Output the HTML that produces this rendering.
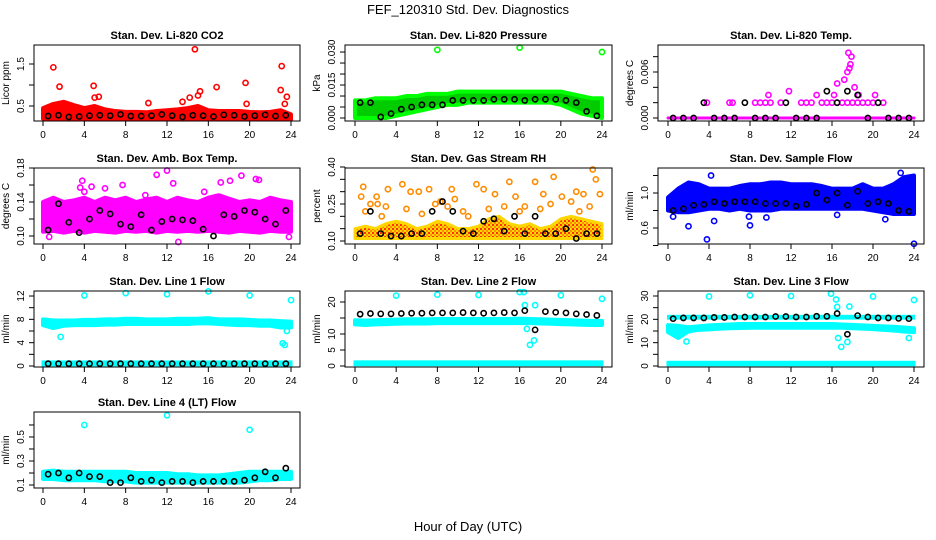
<!DOCTYPE html>
<html><head><meta charset="utf-8">
<style>
html,body{margin:0;padding:0;background:#fff;}
svg{display:block;font-family:"Liberation Sans",sans-serif;}
</style></head>
<body>
<svg id="chart" width="936" height="540" viewBox="0 0 936 540" xmlns="http://www.w3.org/2000/svg">
<defs>
<pattern id="rhpat" width="4" height="4" patternUnits="userSpaceOnUse">
<rect width="4" height="4" fill="#ffd700"/>
<rect width="2" height="2" fill="#ff3300"/>
<rect x="2" y="2" width="2" height="2" fill="#ff8c00"/>
</pattern>
</defs>
<text x="468" y="14" text-anchor="middle" font-size="13">FEF_120310  Std. Dev. Diagnostics</text>
<text x="468" y="531" text-anchor="middle" font-size="13">Hour of Day (UTC)</text>
</svg>
<script>
const hours = [0,1,2,3,4,5,6,7,8,9,10,11,12,13,14,15,16,17,18,19,20,21,22,23,24];
const blackHours = [0.5,1.5,2.5,3.5,4.5,5.5,6.5,7.5,8.5,9.5,10.5,11.5,12.5,13.5,14.5,15.5,16.5,17.5,18.5,19.5,20.5,21.5,22.5,23.5];
const xTicks = [0,4,8,12,16,20,24];

// Panel 1 CO2
const co2Lo = [0.2,0.2,0.2,0.2,0.2,0.2,0.2,0.2,0.2,0.2,0.2,0.2,0.2,0.2,0.2,0.2,0.2,0.2,0.2,0.2,0.2,0.2,0.2,0.2,0.18];
const co2Hi = [0.45,0.55,0.6,0.52,0.45,0.5,0.42,0.38,0.36,0.36,0.35,0.38,0.4,0.42,0.45,0.5,0.4,0.38,0.38,0.38,0.36,0.35,0.36,0.4,0.3];
const co2OutX = [1,1.6,4.9,5,5.4,10.2,13.5,14.2,14.7,15,15.2,16.8,19.6,19.7,23.1,23,23.4,23.6];
const co2OutY = [1.42,0.96,0.98,0.7,0.72,0.57,0.6,0.7,1.85,0.75,0.85,0.95,1.05,0.55,1.45,0.88,0.55,0.72];
const co2Black = [0.26,0.28,0.24,0.25,0.27,0.28,0.27,0.3,0.26,0.26,0.27,0.3,0.27,0.24,0.28,0.27,0.25,0.29,0.28,0.25,0.27,0.29,0.26,0.28];
// Panel 2 pressure
const presLo = [0,0,0,0,0.001,0.002,0.003,0.004,0.005,0.006,0.006,0.007,0.007,0.007,0.007,0.007,0.007,0.007,0.007,0.007,0.006,0.004,0.002,0.001,0];
const presHi = [0.008,0.008,0.009,0.009,0.009,0.01,0.01,0.011,0.011,0.011,0.012,0.012,0.012,0.012,0.012,0.012,0.012,0.012,0.012,0.012,0.012,0.011,0.01,0.009,0.009];
const presOutX = [8,16,24];
const presOutY = [0.031,0.032,0.030];
const presBlack = [0.007,0.007,0.0005,0.002,0.004,0.005,0.006,0.006,0.006,0.008,0.008,0.008,0.008,0.0085,0.0085,0.0085,0.008,0.0085,0.0085,0.0085,0.008,0.007,0.003,0.001];
// Panel 3 temp
const tempLo = [0,0,0,0,0,0,0,0,0,0,0,0,0,0,0,0,0,0,0,0,0,0,0,0,0];
const tempHi = [0,0,0,0,0,0,0,0,0,0,0,0,0,0,0,0,0,0,0,0,0,0,0,0,0];
const tempOutX = [3.8,6,6.3,8.5,9,9.5,10,11,13,13.5,14,15,15.5,16,16.5,17,17.5,18,18.5,19,19.5,20,20.5,21,9.8,11.8,14.5,16.2,16.5,17.2,17.5,17.7,17.8,17.9,17.6,18.2,18.6,20.2];
const tempOutY = [0.002,0.002,0.002,0.002,0.002,0.002,0.002,0.002,0.002,0.002,0.002,0.002,0.002,0.002,0.002,0.002,0.002,0.002,0.002,0.002,0.002,0.002,0.002,0.002,0.003,0.0035,0.003,0.003,0.0045,0.005,0.006,0.0065,0.007,0.008,0.0085,0.004,0.003,0.003];
const tempBlack = [0,0,0,0.002,0,0,0,0.002,0,0,0,0.002,0,0,0,0.0035,0.002,0.0035,0.003,0,0.002,0,0,0];
// Panel 4 ambient temp
const ambLo = [0.105,0.106,0.104,0.106,0.104,0.106,0.105,0.104,0.106,0.105,0.106,0.104,0.106,0.105,0.106,0.105,0.106,0.105,0.104,0.106,0.105,0.104,0.106,0.105,0.105];
const ambHi = [0.14,0.145,0.14,0.142,0.145,0.14,0.145,0.142,0.145,0.14,0.143,0.145,0.14,0.145,0.142,0.14,0.145,0.148,0.144,0.14,0.142,0.14,0.145,0.142,0.14];
const ambOutX = [0.6,3.6,3.8,4.7,7.7,9.9,11,12,12.6,13.1,15.6,17.2,18.1,19.2,20.6,20.9,23.8,4,6];
const ambOutY = [0.099,0.157,0.165,0.158,0.16,0.148,0.172,0.177,0.162,0.093,0.152,0.163,0.165,0.171,0.167,0.166,0.099,0.152,0.156];
const ambBlack = [0.107,0.138,0.116,0.104,0.12,0.13,0.126,0.114,0.111,0.125,0.107,0.117,0.12,0.119,0.118,0.108,0.1,0.125,0.123,0.13,0.128,0.12,0.114,0.13];
// Panel 5 RH
const rhLo = [0.11,0.11,0.11,0.11,0.11,0.11,0.11,0.11,0.11,0.11,0.11,0.11,0.11,0.11,0.11,0.11,0.11,0.11,0.11,0.11,0.11,0.11,0.11,0.11,0.11];
const rhHi = [0.15,0.16,0.15,0.17,0.18,0.17,0.15,0.16,0.18,0.17,0.15,0.15,0.16,0.19,0.2,0.17,0.16,0.17,0.15,0.16,0.19,0.2,0.19,0.18,0.17];
const rhOutX = [0.6,0.8,2.1,2.2,3.2,4.6,5.4,6.2,7.2,8.3,9.4,9.7,11.8,12.5,13.6,15,15.6,16.5,17.5,18.3,19.3,20.1,21,21.5,22.2,23.1,23.4,23.8,1.5,7.8,1,3,5,6.5,9,10.5,13,14.5,16,18,19,21.8,22.8,2.6,11];
const rhOutY = [0.28,0.32,0.28,0.25,0.31,0.33,0.3,0.3,0.31,0.26,0.31,0.27,0.33,0.31,0.29,0.34,0.28,0.24,0.34,0.29,0.36,0.28,0.26,0.3,0.29,0.39,0.35,0.29,0.25,0.25,0.22,0.24,0.23,0.21,0.24,0.22,0.23,0.24,0.22,0.23,0.25,0.22,0.24,0.2,0.2];
const rhBlack = [0.13,0.22,0.13,0.12,0.12,0.13,0.13,0.22,0.26,0.22,0.14,0.13,0.18,0.19,0.14,0.2,0.13,0.2,0.13,0.13,0.15,0.11,0.13,0.13];
// Panel 6 sample flow
const flowLo = [0.8,0.78,0.78,0.8,0.82,0.82,0.8,0.82,0.8,0.8,0.8,0.82,0.82,0.82,0.82,0.82,0.82,0.82,0.82,0.82,0.8,0.78,0.76,0.76,0.76];
const flowHi = [0.95,1.05,1.12,1.1,1.05,1.05,1.05,1.08,1.1,1.1,1.12,1.12,1.1,1.1,1.1,1.08,1.05,1.05,1.05,1.1,1.05,1.05,1.1,1.18,1.2];
const flowOutX = [0.5,2,3.8,4.2,4.5,7.9,8,16.5,21.2,22.7,24,9.6];
const flowOutY = [0.73,0.62,0.47,1.2,0.68,0.73,0.63,0.75,0.7,1.23,0.42,0.72];
const flowBlack = [0.8,0.82,0.86,0.87,0.9,0.88,0.9,0.9,0.9,0.88,0.88,0.88,0.85,0.87,1.0,0.92,1.0,0.86,1.02,0.88,0.9,0.88,0.8,0.79];
// Panel 7 line 1
const l1Lo = [7.0,6.5,6.9,7.0,7.0,7.0,7.1,7.1,7.2,7.2,7.2,7.2,7.2,7.2,7.2,7.3,7.3,7.2,7.1,7.0,7.0,6.9,6.9,6.6,6.6];
const l1Hi = [8.0,7.8,7.8,7.8,7.9,7.9,8.0,8.0,8.1,8.1,8.0,8.0,8.0,8.1,8.1,8.1,8.2,8.0,8.0,8.0,7.9,7.8,7.8,7.7,7.6];
const l1OutX = [4,8,12,16,20,24,1.7,23.2,23.4,23.6];
const l1OutY = [12.1,12.5,12.3,12.8,12.1,11.3,5,3.9,3.6,6];
const l1Black = [0.4,0.4,0.4,0.4,0.4,0.4,0.4,0.4,0.4,0.4,0.4,0.4,0.4,0.4,0.4,0.4,0.4,0.4,0.4,0.4,0.4,0.4,0.4,0.4];
// Panel 8 line 2
const l2Lo = [13.0,12.8,13.0,13.1,13.2,13.3,13.3,13.3,13.4,13.4,13.4,13.4,13.4,13.4,13.4,13.4,13.4,13.4,13.3,13.2,13.1,13.0,12.9,12.8,12.8];
const l2Hi = [14.3,14.2,14.3,14.4,14.5,14.6,14.6,14.6,14.7,14.7,14.7,14.7,14.7,14.7,14.7,14.7,14.8,14.7,14.6,14.5,14.4,14.3,14.2,14.1,14.1];
const l2OutX = [4,8,12,16,16.4,20,24,16.7,17,17.4,17.5,16.5];
const l2OutY = [22,22.3,22.2,23.1,23.1,22.1,21,11.6,6.6,8,19,19];
const l2Black = [16.2,16.4,16.3,16.3,16.4,16.5,16.5,16.6,16.6,16.6,16.7,16.6,16.5,16.6,16.7,16.6,17.3,11.3,17,16.8,16.6,16.3,16.1,15.8];
// Panel 9 line 3
const l3Lo = [14.5,12,14.8,15.5,15.7,16,16.2,16.3,16.4,16.4,16.4,16.4,16.4,16.4,16.4,16.4,16.4,16.4,16.2,16,15.8,15.5,15.2,14.8,14.5];
const l3Hi = [17.5,17.2,16.6,17,17.4,17.6,17.8,18,18,18,18,18,18,18,18,18,18,17.8,17.6,17.4,17.2,17,16.8,16.5,16.2];
const l3OutX = [4,8,12,15.9,16.4,20,24,16.6,16.9,17.5,17.7,16.5,23.5,1.8];
const l3OutY = [29.8,30.3,30,31,28.5,29.8,28.3,12,8.2,10.3,25.5,25.3,12,10.5];
const l3Black = [20.3,20.6,20.6,20.6,20.8,20.8,21,21,21,21,21.2,21.2,21,21,21.3,21.3,22.5,13.6,21.6,21,20.6,20.6,20.4,20.3];
// Panel 10 line 4
const l4Lo = [0.15,0.15,0.14,0.14,0.14,0.14,0.13,0.13,0.13,0.12,0.12,0.12,0.12,0.12,0.12,0.12,0.12,0.12,0.12,0.12,0.13,0.14,0.14,0.15,0.15];
const l4Hi = [0.21,0.22,0.21,0.21,0.21,0.21,0.21,0.21,0.21,0.2,0.2,0.2,0.2,0.19,0.19,0.18,0.18,0.18,0.19,0.2,0.21,0.21,0.21,0.21,0.21];
const l4OutX = [4,12,20];
const l4OutY = [0.6,0.68,0.56];
const l4Black = [0.19,0.2,0.16,0.2,0.17,0.17,0.12,0.12,0.16,0.13,0.14,0.12,0.13,0.13,0.12,0.13,0.13,0.13,0.13,0.14,0.16,0.21,0.16,0.24];

const cols = [{bl:34,br:300,x0:43,x24:291,lab:9},{bl:345,br:612,x0:355,x24:602,lab:320},{bl:658,br:924,x0:668,x24:914,lab:633}];
const rowTops = [45,168,291,412];
const H = 76;

const panels = [
 {name:'co2',title:'Stan. Dev. Li-820 CO2',yt:'Licor ppm',c:0,r:0,ymin:0.143,ymax:1.952,ticks:[0.5,1.0,1.5],labels:['0.5','','1.5'],fill:'#ff0000',stroke:'#ff0000',sw:4,lo:co2Lo,hi:co2Hi,ox:co2OutX,oy:co2OutY,bk:co2Black},
 {name:'pressure',title:'Stan. Dev. Li-820 Pressure',yt:'kPa',c:1,r:0,ymin:-0.00136,ymax:0.0332,ticks:[0,0.005,0.01,0.015,0.02,0.025,0.03],labels:['0.000','','','0.015','','','0.030'],fill:'#00cc00',stroke:'#00ff00',sw:4,lo:presLo,hi:presHi,ox:presOutX,oy:presOutY,bk:presBlack},
 {name:'temp',title:'Stan. Dev. Li-820 Temp.',yt:'degrees C',c:2,r:0,ymin:-0.00039,ymax:0.00952,ticks:[0,0.002,0.004,0.006,0.008],labels:['0.000','','','0.006',''],fill:'#ff00ff',stroke:'#ff00ff',sw:3,lo:tempLo,hi:tempHi,ox:tempOutX,oy:tempOutY,bk:tempBlack},
 {name:'amb-temp',title:'Stan. Dev. Amb. Box Temp.',yt:'degrees C',c:0,r:1,ymin:0.0906,ymax:0.18,ticks:[0.10,0.12,0.14,0.16,0.18],labels:['0.10','','0.14','','0.18'],fill:'#ff00ff',stroke:'#ff00ff',sw:4,lo:ambLo,hi:ambHi,ox:ambOutX,oy:ambOutY,bk:ambBlack},
 {name:'rh',title:'Stan. Dev. Gas Stream RH',yt:'percent',c:1,r:1,ymin:0.0878,ymax:0.396,ticks:[0.10,0.15,0.20,0.25,0.30,0.35,0.40],labels:['0.10','','','0.25','','','0.40'],fill:'url(#rhpat)',stroke:'#ffd700',sw:3,oc:'#ff8c00',lo:rhLo,hi:rhHi,ox:rhOutX,oy:rhOutY,bk:rhBlack},
 {name:'sample-flow',title:'Stan. Dev. Sample Flow',yt:'ml/min',c:2,r:1,ymin:0.417,ymax:1.286,ticks:[0.4,0.6,0.8,1.0,1.2],labels:['','0.6','','1.0',''],fill:'#0000ff',stroke:'#0000ff',sw:4,lo:flowLo,hi:flowHi,ox:flowOutX,oy:flowOutY,bk:flowBlack},
 {name:'line1',title:'Stan. Dev. Line 1 Flow',yt:'ml/min',c:0,r:2,ymin:-0.17,ymax:12.86,ticks:[0,2,4,6,8,10,12],labels:['0','','4','','8','','12'],fill:'#00ffff',stroke:'#00ffff',sw:4,lo:l1Lo,hi:l1Hi,ox:l1OutX,oy:l1OutY,bk:l1Black,base:[0.2,0.7]},
 {name:'line2',title:'Stan. Dev. Line 2 Flow',yt:'ml/min',c:1,r:2,ymin:-0.31,ymax:23.44,ticks:[0,5,10,15,20],labels:['0','5','10','','20'],fill:'#00ffff',stroke:'#00ffff',sw:4,lo:l2Lo,hi:l2Hi,ox:l2OutX,oy:l2OutY,bk:l2Black,base:[0.4,1.3]},
 {name:'line3',title:'Stan. Dev. Line 3 Flow',yt:'ml/min',c:2,r:2,ymin:-0.43,ymax:32.14,ticks:[0,5,10,15,20,25,30],labels:['0','','10','','20','','30'],fill:'#00ffff',stroke:'#00ffff',sw:4,lo:l3Lo,hi:l3Hi,ox:l3OutX,oy:l3OutY,bk:l3Black,base:[0.5,1.6],band2:[20.3,21.5]},
 {name:'line4',title:'Stan. Dev. Line 4 (LT) Flow',yt:'ml/min',c:0,r:3,ymin:0.075,ymax:0.708,ticks:[0.1,0.2,0.3,0.4,0.5,0.6],labels:['0.1','','0.3','','0.5',''],fill:'#00ffff',stroke:'#00ffff',sw:4,lo:l4Lo,hi:l4Hi,ox:l4OutX,oy:l4OutY,bk:l4Black}
];

const NS='http://www.w3.org/2000/svg';
const svg=document.getElementById('chart');
function mk(tag,attrs,parent){const e=document.createElementNS(NS,tag);for(const k in attrs)e.setAttribute(k,attrs[k]);(parent||svg).appendChild(e);return e;}

panels.forEach(p=>{
  const col=cols[p.c], top=rowTops[p.r], bot=top+H;
  const xs=h=>col.x0+(col.x24-col.x0)*h/24;
  const ys=v=>bot-(v-p.ymin)/(p.ymax-p.ymin)*H;
  const g=mk('g',{});
  
  
  const t=mk('text',{x:(col.bl+col.br)/2,y:top-6,'text-anchor':'middle','font-size':'11','font-weight':'bold'},g);
  t.textContent=p.title;
  
  
  const yt=mk('text',{x:col.lab,y:top+H/2,'text-anchor':'middle','font-size':'10',transform:'rotate(-90 '+col.lab+' '+(top+H/2)+')'},g);
  yt.textContent=p.yt;
  
  
  const oc=p.oc||p.stroke;
  p.ox.forEach((x,i)=>{
    const c=mk('circle',{cx:xs(x),cy:ys(p.oy[i]),r:2.6,fill:'none',stroke:oc,'stroke-width':1.6},g);
    
    
  });
  const pts=[];
  hours.forEach((h,i)=>pts.push(xs(h)+','+ys(p.hi[i])));
  for(let i=hours.length-1;i>=0;i--)pts.push(xs(hours[i])+','+ys(p.lo[i]));
  const band=mk('polygon',{points:pts.join(' '),fill:p.fill,stroke:p.stroke,'stroke-width':p.sw,'stroke-linejoin':'round'},g);
  
  
  if(p.base){
    const r=mk('rect',{x:xs(0),y:ys(p.base[1]),width:xs(24)-xs(0),height:Math.max(2,ys(p.base[0])-ys(p.base[1])),fill:p.fill,stroke:p.stroke,'stroke-width':3},g);
    
    
  }
  if(p.band2){
    const r=mk('rect',{x:xs(0),y:ys(p.band2[1]),width:xs(24)-xs(0),height:ys(p.band2[0])-ys(p.band2[1]),fill:p.fill,stroke:p.stroke,'stroke-width':2},g);
    
    
  }
  blackHours.forEach((h,i)=>{
    const c=mk('circle',{cx:xs(h),cy:ys(p.bk[i]),r:2.6,fill:'none',stroke:'#000','stroke-width':1.6},g);
    
    
  });
  const box=mk('rect',{x:col.bl,y:top,width:col.br-col.bl,height:H,fill:'none',stroke:'#000','stroke-width':1},g);
  
  
  xTicks.forEach(h=>{
    mk('line',{x1:xs(h),x2:xs(h),y1:bot,y2:bot+5,stroke:'#000'},g);
    const tl=mk('text',{x:xs(h),y:bot+17,'text-anchor':'middle','font-size':'10'},g);
    tl.textContent=h;
    
    
  });
  mk('line',{x1:xs(0),x2:xs(24),y1:bot,y2:bot,stroke:'#000'},g);
  const ty=p.ticks.map(ys);
  mk('line',{x1:col.bl,x2:col.bl,y1:Math.min(...ty),y2:Math.max(...ty),stroke:'#000'},g);
  p.ticks.forEach((v,i)=>{
    mk('line',{x1:col.bl-5,x2:col.bl,y1:ys(v),y2:ys(v),stroke:'#000'},g);
    if(p.labels[i]){
      const lx=col.bl-10;
      const tl=mk('text',{x:lx,y:ys(v),'text-anchor':'middle','font-size':'10',transform:'rotate(-90 '+lx+' '+ys(v)+')'},g);
      tl.textContent=p.labels[i];
      
      
    }
  });
});
</script>
</body></html>
